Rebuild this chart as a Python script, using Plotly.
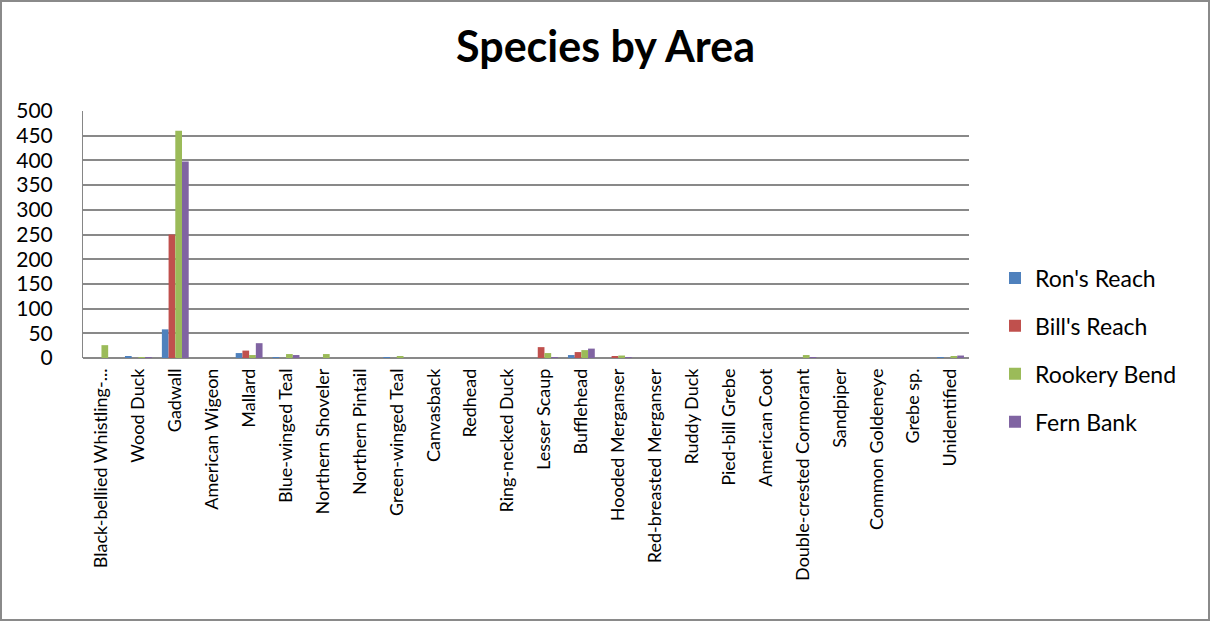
import plotly.graph_objects as go

# Bird counts per species, one list per survey area
species = [
    "Black-bellied Whistling-...", "Wood Duck", "Gadwall", "American Wigeon",
    "Mallard", "Blue-winged Teal", "Northern Shoveler", "Northern Pintail",
    "Green-winged Teal", "Canvasback", "Redhead", "Ring-necked Duck",
    "Lesser Scaup", "Bufflehead", "Hooded Merganser", "Red-breasted Merganser",
    "Ruddy Duck", "Pied-bill Grebe", "American Coot", "Double-crested Cormorant",
    "Sandpiper", "Common Goldeneye", "Grebe sp.", "Unidentified",
]
rons_reach = [0, 3, 58, 0, 10, 2, 0, 0, 1, 0, 0, 0, 0, 6, 0, 0, 0, 0, 0, 0, 0, 0, 0, 1]
bills_reach = [0, 0, 250, 0, 15, 0, 0, 0, 0, 0, 0, 0, 22, 12, 4, 0, 0, 0, 0, 0, 0, 0, 0, 0]
rookery_bend = [26, 2, 460, 0, 6, 8, 8, 0, 4, 0, 0, 0, 10, 16, 5, 0, 0, 0, 0, 6, 0, 0, 0, 4]
fern_bank = [0, 1, 398, 0, 30, 6, 0, 0, 0, 0, 0, 0, 1, 19, 1, 0, 0, 0, 0, 2, 0, 0, 0, 5]
y_ticks = [0, 50, 100, 150, 200, 250, 300, 350, 400, 450, 500]

series = [
    ("Ron's Reach", rons_reach, "#4F81BD"),
    ("Bill's Reach", bills_reach, "#C0504D"),
    ("Rookery Bend", rookery_bend, "#9BBB59"),
    ("Fern Bank", fern_bank, "#8064A2"),
]

fig = go.Figure()
for name, vals, color in series:
    fig.add_trace(go.Bar(
        x=species, y=vals, name=name, legendgroup=name,
        marker=dict(color=color, line=dict(width=0)),
    ))

W, H = 1211, 622
L, R, T, B = 83, 242, 111, 264
pw, ph = W - L - R, H - T - B

fig.update_layout(
    width=W, height=H,
    margin=dict(l=L, r=R, t=T, b=B, autoexpand=False),
    paper_bgcolor="white", plot_bgcolor="white",
    font=dict(family="Lato, Carlito, sans-serif", color="black"),
    barmode="group", bargap=0.273, bargroupgap=0,
    title=dict(
        text="<b>Species by Area</b>", x=0.5, xanchor="center",
        xref="container", yref="container", y=1 - 47 / H, yanchor="middle",
        font=dict(size=43, color="black"),
    ),
    legend=dict(
        x=(995 - L) / pw, xanchor="left", y=(H - B - 350) / ph, yanchor="middle",
        font=dict(size=23), traceorder="grouped", tracegroupgap=15,
        bgcolor="rgba(0,0,0,0)",
    ),
    xaxis=dict(
        tickangle=-90, tickfont=dict(size=18), showgrid=False,
        showline=False, ticks="", ticklabelstandoff=6,
        categoryorder="array", categoryarray=species,
    ),
    yaxis=dict(
        range=[0, 500], tickvals=y_ticks, tickfont=dict(size=21),
        showgrid=True, gridcolor="#898989", gridwidth=2,
        showline=True, linecolor="#868686", linewidth=1,
        zeroline=True, zerolinecolor="#898989", zerolinewidth=2,
        ticks="", ticklabelstandoff=25,
    ),
    shapes=[dict(
        type="rect", xref="paper", yref="paper",
        x0=(1 - L) / pw, x1=(W - 2 - L) / pw,
        y0=-(H - 2 - (H - B)) / ph, y1=(H - B - 1) / ph,
        line=dict(color="#8A8A8A", width=2), fillcolor="rgba(0,0,0,0)",
        layer="below",
    )],
)

fig.write_html("out.html")
